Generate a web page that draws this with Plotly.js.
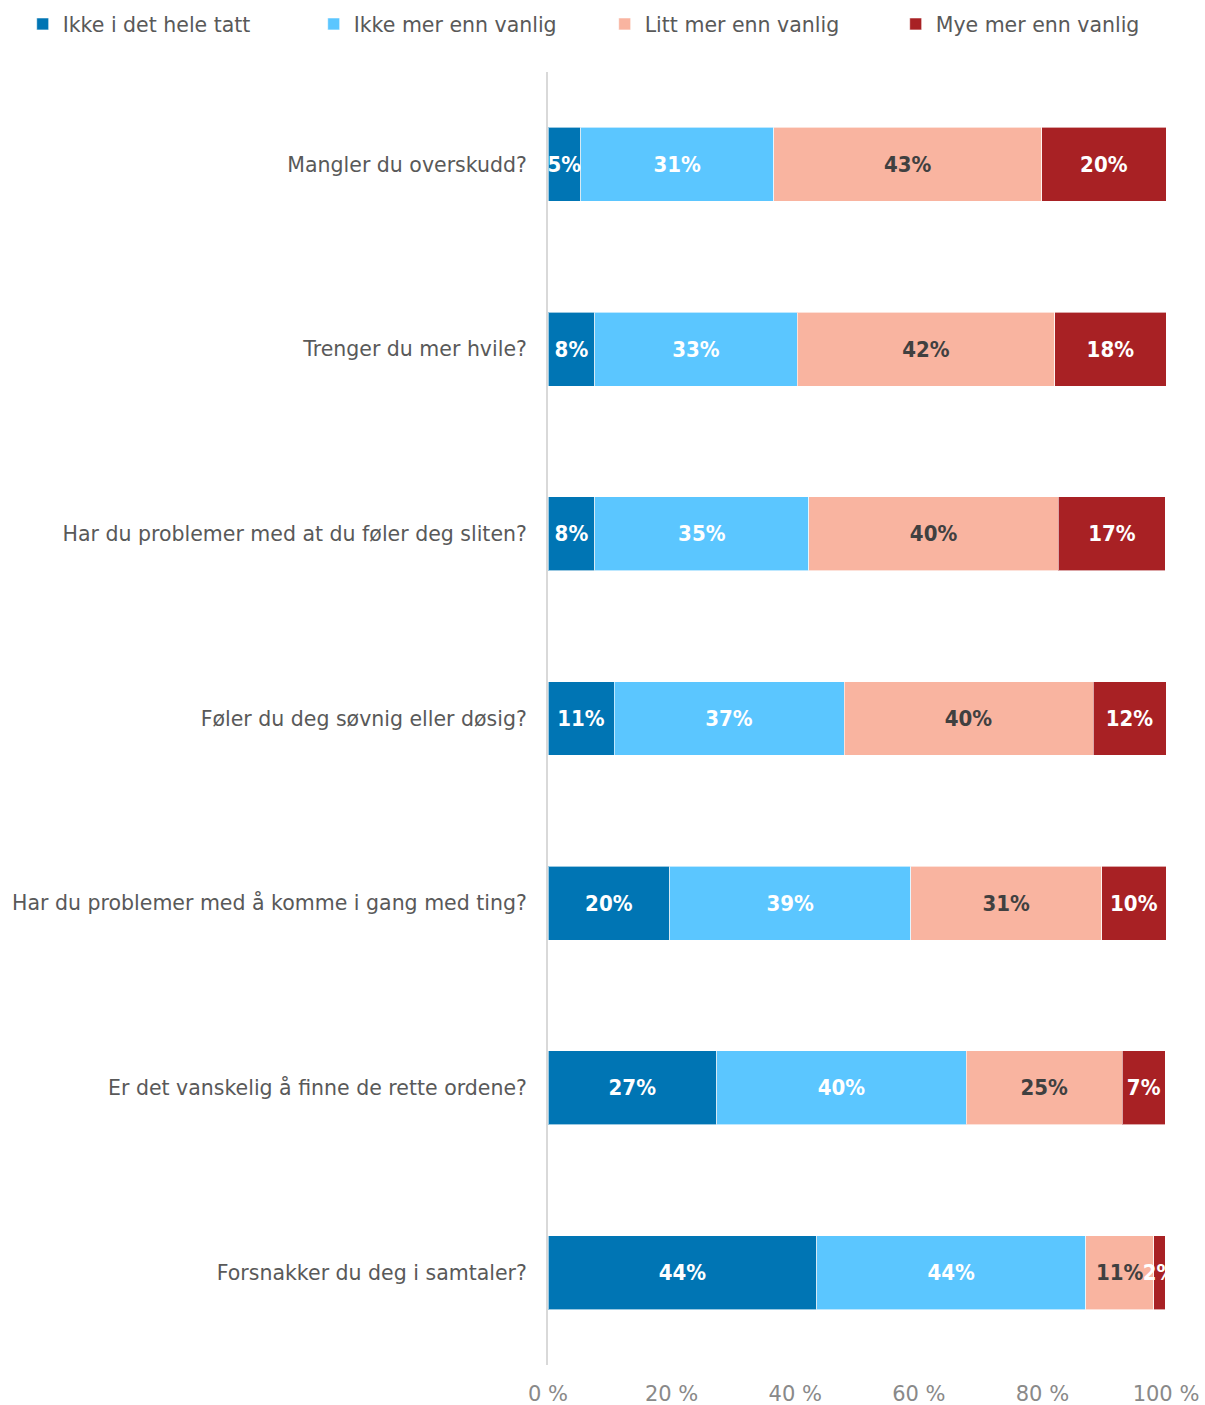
<!DOCTYPE html>
<html>
<head>
<meta charset="utf-8">
<script src="https://cdn.plot.ly/plotly-3.0.1.min.js"></script>
<style>html,body{margin:0;padding:0;background:#fff;}#chart{width:1205px;height:1405px;}</style>
</head>
<body>
<div id="chart"></div>
<script>
const categories = [
  "Mangler du overskudd?",
  "Trenger du mer hvile?",
  "Har du problemer med at du føler deg sliten?",
  "Føler du deg søvnig eller døsig?",
  "Har du problemer med å komme i gang med ting?",
  "Er det vanskelig å finne de rette ordene?",
  "Forsnakker du deg i samtaler?"
];
const seriesNames = ["Ikke i det hele tatt", "Ikke mer enn vanlig", "Litt mer enn vanlig", "Mye mer enn vanlig"];
const ikkeIDetHeleTatt = [5.3, 7.6, 7.6, 10.7, 19.7, 27.3, 43.5];
const ikkeMerEnnVanlig = [31.2, 32.7, 34.6, 37.2, 39.0, 40.4, 43.5];
const littMerEnnVanlig = [43.4, 41.7, 40.4, 40.3, 30.9, 25.2, 11.0];
const myeMerEnnVanlig = [20.1, 18.0, 17.3, 11.8, 10.4, 7.0, 1.9];
const tickValues = [0, 20, 40, 60, 80, 100];
const tickLabels = ["0 %", "20 %", "40 %", "60 %", "80 %", "100 %"];

const colors = ["#0075B4", "#5BC6FF", "#F9B4A0", "#A82124"];
const textColors = ["#FFFFFF", "#FFFFFF", "#404040", "#FFFFFF"];
const allSeries = [ikkeIDetHeleTatt, ikkeMerEnnVanlig, littMerEnnVanlig, myeMerEnnVanlig];
const baseFont = "'DejaVu Sans', Verdana, sans-serif";

const traces = allSeries.map((vals, i) => ({
  type: "bar",
  orientation: "h",
  name: seriesNames[i],
  y: categories,
  x: vals,
  text: vals.map(v => Math.round(v) + "%"),
  textposition: "inside",
  insidetextanchor: "middle",
  textangle: 0,
  constraintext: "none",
  cliponaxis: false,
  textfont: {family: "'DejaVu Sans Condensed', 'DejaVu Sans', sans-serif", size: 22, color: textColors[i], weight: "bold"},
  marker: {color: colors[i], line: {color: "rgba(255,255,255,0.6)", width: 1}},
  hoverinfo: "skip"
}));

const layout = {
  width: 1205,
  height: 1405,
  barmode: "stack",
  bargap: 0.6,
  margin: {l: 548, r: 39, t: 72, b: 40, autoexpand: false},
  paper_bgcolor: "#ffffff",
  plot_bgcolor: "#ffffff",
  showlegend: true,
  legend: {
    orientation: "h",
    x: -0.85, xanchor: "left",
    y: 1.0525, yanchor: "top",
    font: {family: baseFont, size: 20.5, color: "#595959"},
    entrywidth: 246,
    itemwidth: 30,
    traceorder: "normal"
  },
  xaxis: {
    range: [0, 100],
    tickvals: tickValues,
    ticktext: tickLabels,
    showgrid: false,
    zeroline: false,
    showline: false,
    ticks: "",
    ticklabelstandoff: 14,
    tickfont: {family: baseFont, size: 21, color: "#898989"},
    fixedrange: true
  },
  yaxis: {
    type: "category",
    autorange: "reversed",
    showgrid: false,
    zeroline: false,
    showline: true,
    linecolor: "#D9D9D9",
    linewidth: 2,
    ticks: "",
    ticklabelstandoff: 15,
    tickfont: {family: baseFont, size: 20.5, color: "#595959"},
    fixedrange: true
  }
};

Plotly.newPlot("chart", traces, layout, {displayModeBar: false, staticPlot: true});
</script>
</body>
</html>
